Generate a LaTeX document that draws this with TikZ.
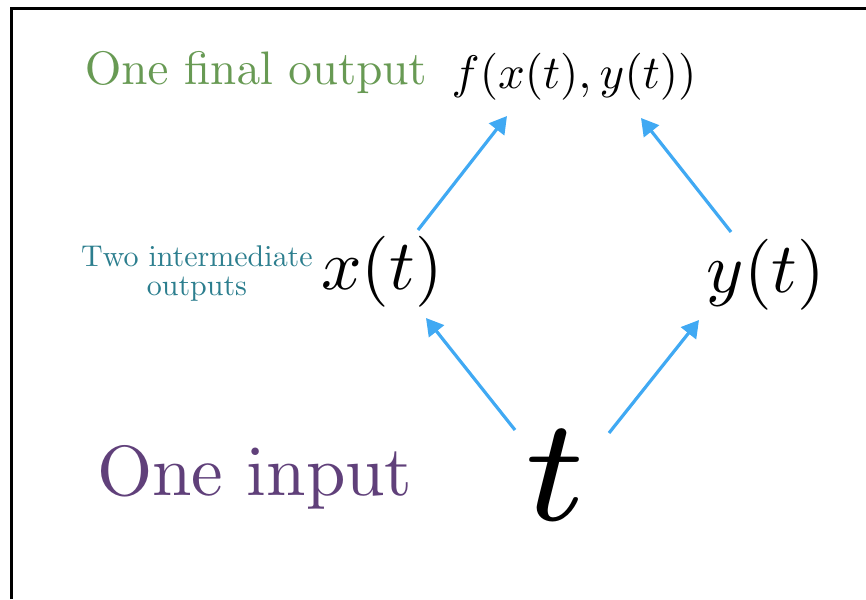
\documentclass[tikz,border=0pt]{standalone}
\usetikzlibrary{arrows.meta,calc}
\DeclareFontFamily{OML}{cmm}{\skewchar\font127 }
\DeclareFontShape{OML}{cmm}{m}{it}{<-> cmmi10}{}
\DeclareFontFamily{OML}{cmmsev}{\skewchar\font127 }
\DeclareFontShape{OML}{cmmsev}{m}{it}{<-> cmmi7}{}
\DeclareFontFamily{OT1}{cmr}{\hyphenchar\font45 }
\DeclareFontShape{OT1}{cmr}{m}{n}{<-> cmr10}{}
\newcommand{\cmtext}{\fontencoding{OT1}\fontfamily{cmr}\fontseries{m}\fontshape{n}\selectfont}
\definecolor{cgreen}{RGB}{104,154,84}
\definecolor{cpurple}{RGB}{96,64,122}
\definecolor{cteal}{RGB}{44,126,142}
\definecolor{cblue}{RGB}{64,169,243}
\tikzset{
  arr/.style={draw=cblue,line width=3.2pt,-{Triangle[length=17pt,width=19pt]}},
  lbl/.style={inner sep=0pt,anchor=center},
}
\begin{document}
\begin{tikzpicture}[x=1pt,y=-1pt]
\useasboundingbox (0,0) rectangle (866,599);
\draw[line width=3pt] (11,599) -- (11,9) -- (866,9);
\node[lbl,text=cgreen,font=\fontsize{47}{50}\cmtext] (fo) at (256,73) {One final output};
\node[lbl,font=\fontsize{47}{50}\selectfont] (f) at (574,77) {$f(x(t),\,y(t))$};
\node[lbl,text=cteal,align=center,font=\fontsize{30}{29}\cmtext] (two) at (197,273) {Two intermediate\\outputs};
\node[lbl,font=\fontsize{71}{74}\selectfont] (xt) at (382,272) {$x(t)$};
\node[lbl,font=\fontsize{71}{74}\selectfont] (yt) at (766,275) {$y(t)$};
\node[lbl,text=cpurple,font=\fontsize{71}{80}\cmtext] (oi) at (255,478) {One input};
\node[lbl,font=\fontsize{147}{150}\usefont{OML}{cmmsev}{m}{it}] (t) at (555,475) {t};
\draw[arr] ($(xt)+(36,-42)$) -- ($(f)+(-67,39)$);
\draw[arr] ($(yt)+(-35,-43)$) -- ($(f)+(67,41)$);
\draw[arr] ($(t)+(-40,-45)$) -- ($(xt)+(44,46)$);
\draw[arr] ($(t)+(54,-42)$) -- ($(yt)+(-67,45)$);
\end{tikzpicture}
\end{document}
